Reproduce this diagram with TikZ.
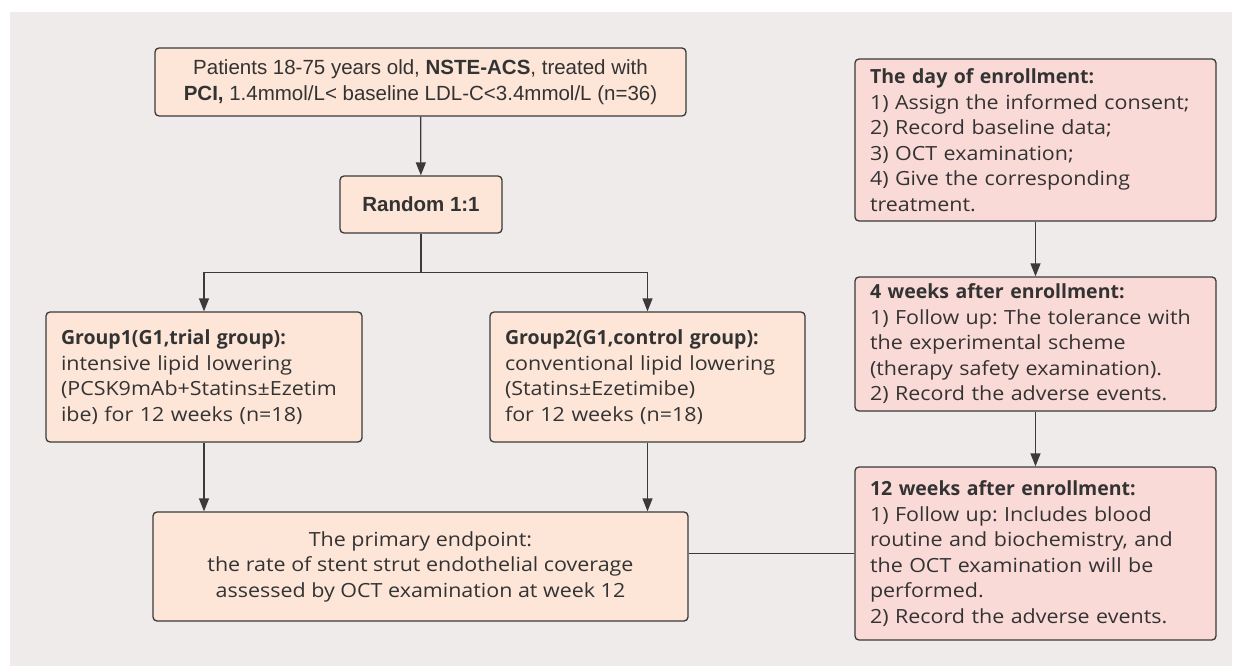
\documentclass[tikz,border=0pt]{standalone}
\usepackage{fontspec}
\setmainfont{Open Sans}[FakeStretch=1.1, BoldFeatures={FakeStretch=1.0}]
\newfontfamily\arialfont{Liberation Sans}
\usepackage{xcolor}
\usepackage{tikz}
\usetikzlibrary{arrows.meta,positioning}
\definecolor{bgGray}{HTML}{EFEBEA}
\definecolor{peachFill}{HTML}{FDE5D8}
\definecolor{pinkFill}{HTML}{FADAD7}
\definecolor{lineGray}{HTML}{3A3A3A}
\tikzset{
  box/.style={draw=lineGray, line width=1.3pt, rounded corners=4pt, inner sep=0pt, text=black!80},
  peach/.style={box, fill=peachFill},
  pink/.style={box, fill=pinkFill},
  arr/.style={draw=lineGray, line width=1.3pt, -{Triangle[length=13pt,width=10pt]}},
  link/.style={draw=lineGray, line width=1.3pt},
  uitext/.style={font=\frenchspacing\fontsize{19.5}{25.5}\selectfont},
  ariatext/.style={font=\arialfont\fontsize{20.5}{26}\selectfont},
}

\begin{document}
\begin{tikzpicture}[x=1pt,y=-1pt]
\useasboundingbox (0,0) rectangle (1240,666);
\fill[white] (0,0) rectangle (1240,666);
\fill[bgGray] (10,12) rectangle (1232,666);

% left column
\node[peach, ariatext, minimum width=531pt, minimum height=68pt, align=center] (pat) at (420.5,82)
  {Patients 18-75 years old, \textbf{NSTE-ACS}, treated with\\
   \textbf{PCI,} 1.4mmol/L< baseline LDL-C<3.4mmol/L (n=36)};
\node[peach, ariatext, minimum width=162pt, minimum height=57pt] (rand) at (421,204.5)
  {\textbf{Random 1:1}};
\node[peach, uitext, minimum width=316pt, minimum height=130pt, text width=286pt, align=left] (g1) at (204,377)
  {\textbf{Group1(G1,trial group):}\\
   intensive lipid lowering\\
   (PCSK9mAb+Statins±Ezetim\\
   ibe) for 12 weeks (n=18)};
\node[peach, uitext, minimum width=315pt, minimum height=130pt, text width=285pt, align=left] (g2) at (647.5,377)
  {\textbf{Group2(G1,control group):}\\
   conventional lipid lowering\\
   (Statins±Ezetimibe)\\
   for 12 weeks (n=18)};
\node[peach, uitext, minimum width=535pt, minimum height=109pt, align=center] (end) at (420.5,566.5)
  {The primary endpoint:\\
   the rate of stent strut endothelial coverage\\
   assessed by OCT examination at week 12};

% right column
\node[pink, uitext, minimum width=361pt, minimum height=162pt, text width=331pt, align=left] (day) at (1035.5,140)
  {\textbf{The day of enrollment:}\\
   1) Assign the informed consent;\\
   2) Record baseline data;\\
   3) OCT examination;\\
   4) Give the corresponding\\
   treatment.};
\node[pink, uitext, minimum width=361pt, minimum height=134pt, text width=331pt, align=left] (wk4) at (1035.5,344)
  {\textbf{4 weeks after enrollment:}\\
   1) Follow up: The tolerance with\\
   the experimental scheme\\
   (therapy safety examination).\\
   2) Record the adverse events.};
\node[pink, uitext, minimum width=361pt, minimum height=173pt, text width=331pt, align=left] (wk12) at (1035.5,553.5)
  {\textbf{12 weeks after enrollment:}\\
   1) Follow up: Includes blood\\
   routine and biochemistry, and\\
   the OCT examination will be\\
   performed.\\
   2) Record the adverse events.};

\draw[arr] (pat) -- (rand);
\draw[arr] (rand.south) -- ++(0,39) -| (g1.north);
\draw[arr] (rand.south) -- ++(0,39) -| (g2.north);
\draw[arr] (g1.south) -- (g1.south |- end.north);
\draw[arr] (g2.south) -- (g2.south |- end.north);
\draw[link] (wk12.west) -- (wk12.west -| end.east);
\draw[arr] (day) -- (wk4);
\draw[arr] (wk4) -- (wk12);
\end{tikzpicture}
\end{document}
